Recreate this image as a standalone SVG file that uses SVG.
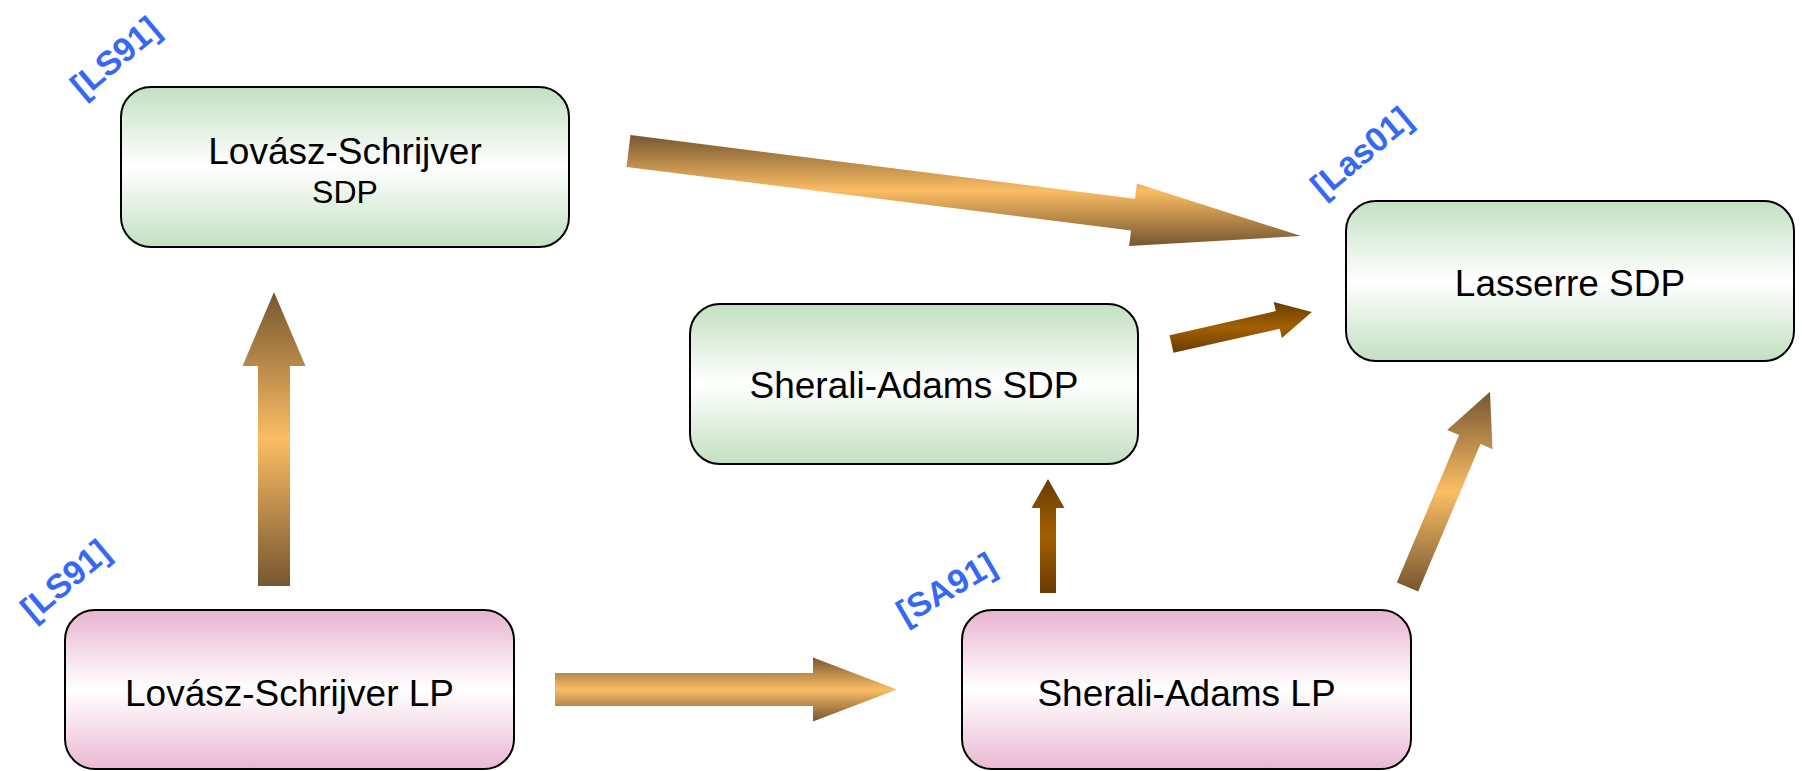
<svg xmlns="http://www.w3.org/2000/svg" width="1802" height="771" viewBox="0 0 1802 771">
  <defs>
    <linearGradient id="gGreen" x1="0" y1="0" x2="0" y2="1">
      <stop offset="0" stop-color="#c3e0c1"/>
      <stop offset="0.5" stop-color="#ffffff"/>
      <stop offset="1" stop-color="#c3e0c1"/>
    </linearGradient>
    <linearGradient id="gPink" x1="0" y1="0" x2="0" y2="1">
      <stop offset="0" stop-color="#e8b4cf"/>
      <stop offset="0.5" stop-color="#ffffff"/>
      <stop offset="1" stop-color="#eab9d3"/>
    </linearGradient>
    <linearGradient id="gGold" x1="0" y1="0" x2="0" y2="1">
      <stop offset="0" stop-color="#765630"/>
      <stop offset="0.5" stop-color="#fbbd64"/>
      <stop offset="1" stop-color="#765630"/>
    </linearGradient>
    <linearGradient id="gRust" x1="0" y1="0" x2="0" y2="1">
      <stop offset="0" stop-color="#683c00"/>
      <stop offset="0.5" stop-color="#a36002"/>
      <stop offset="1" stop-color="#683c00"/>
    </linearGradient>
  </defs>
  <style>
    .box { stroke: #000; stroke-width: 2; }
    .green { fill: url(#gGreen); }
    .pink { fill: url(#gPink); }
    .name { font-family: "Liberation Sans", Arial, sans-serif; font-size: 37px; fill: #000; text-anchor: middle; }
    .sub { font-size: 32px; }
    .ref { font-family: "Liberation Sans", Arial, sans-serif; font-size: 34px; font-weight: bold; fill: #3468f5; text-anchor: middle; }
    .gold { fill: url(#gGold); }
    .rust { fill: url(#gRust); }
  </style>

  <rect width="1802" height="771" fill="#ffffff"/>

  <!-- connectors: block arrows -->
  <g id="connectors">
    <polygon class="gold" points="630.5,135.1 1135,198.8 1136.9,183.4 1301.1,236 1129.1,246 1131,230.6 626.5,166.9"/>
    <polygon class="gold" points="258,586 258,366 242.5,366 274,292 305.5,366 290,366 290,586"/>
    <polygon class="gold" points="555,673 813,673 813,657.5 897,689.5 813,721.5 813,706 555,706"/>
    <polygon class="gold" points="1396.8,582.5 1459.1,435.1 1447.1,430 1490,391.7 1492.5,449.2 1480.5,444.1 1418.2,591.5"/>
    <polygon class="rust" points="1040,593 1040,508 1031.5,508 1048,479 1064.5,508 1056,508 1056,593"/>
    <polygon class="rust" points="1169.5,335.2 1275.8,311.1 1273.7,301.9 1311.9,312.1 1281.9,337.9 1279.8,328.7 1173.5,352.8"/>
  </g>

  <g id="ls-sdp">
    <rect class="box green" x="121" y="87" width="448" height="160" rx="30"/>
    <text class="name" x="345" y="164">Lovász-Schrijver</text>
    <text class="name sub" x="345" y="203">SDP</text>
    <text class="ref" transform="translate(115,57) rotate(-40)" y="12">[LS91]</text>
  </g>

  <g id="lasserre-sdp">
    <rect class="box green" x="1346" y="201" width="448" height="160" rx="30"/>
    <text class="name" x="1570" y="296">Lasserre SDP</text>
    <text class="ref" transform="translate(1361,152) rotate(-40)" y="12">[Las01]</text>
  </g>

  <g id="sa-sdp">
    <rect class="box green" x="690" y="304" width="448" height="160" rx="30"/>
    <text class="name" x="914" y="398">Sherali-Adams SDP</text>
  </g>

  <g id="ls-lp">
    <rect class="box pink" x="65" y="610" width="449" height="159" rx="30"/>
    <text class="name" x="289.5" y="706">Lovász-Schrijver LP</text>
    <text class="ref" transform="translate(65,580) rotate(-40)" y="12">[LS91]</text>
  </g>

  <g id="sa-lp">
    <rect class="box pink" x="962" y="610" width="449" height="159" rx="30"/>
    <text class="name" x="1186.5" y="706">Sherali-Adams LP</text>
    <text class="ref" transform="translate(946,588) rotate(-30)" y="12">[SA91]</text>
  </g>
</svg>
